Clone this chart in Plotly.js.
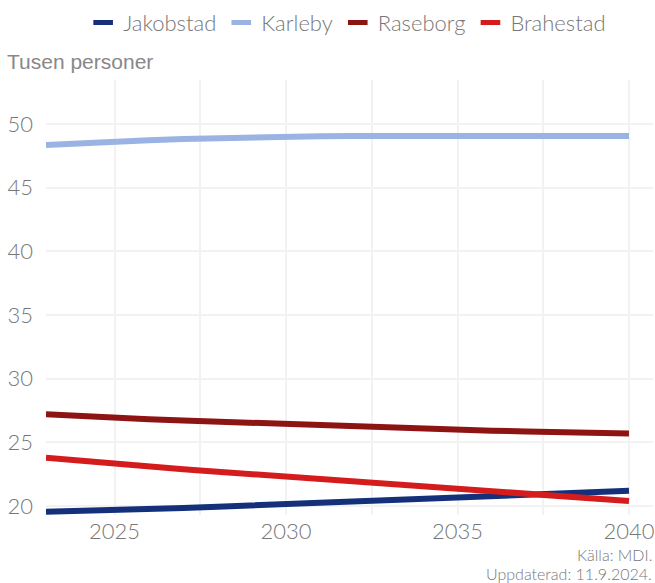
<!DOCTYPE html>
<html>
<head>
<meta charset="utf-8">
<script src="https://cdn.plot.ly/plotly-3.0.1.min.js"></script>
<style>html,body{margin:0;padding:0;background:#fff;}#chart{width:655px;height:583px;}</style>
</head>
<body>
<div id="chart"></div>
<script>
const years = [2023,2024,2025,2026,2027,2028,2029,2030,2031,2032,2033,2034,2035,2036,2037,2038,2039,2040];
const jakobstad = [19.55,19.6,19.65,19.75,19.85,19.95,20.05,20.15,20.25,20.35,20.45,20.55,20.65,20.75,20.85,20.95,21.1,21.2];
const karleby = [48.35,48.5,48.6,48.72,48.82,48.9,48.96,49.0,49.04,49.05,49.06,49.06,49.06,49.06,49.06,49.05,49.05,49.05];
const raseborg = [27.2,27.05,26.92,26.82,26.72,26.62,26.52,26.42,26.32,26.22,26.14,26.06,25.98,25.92,25.86,25.8,25.75,25.7];
const brahestad = [23.8,23.55,23.35,23.12,22.9,22.7,22.5,22.3,22.1,21.9,21.7,21.5,21.32,21.15,20.98,20.8,20.6,20.4];
const seriesNames = ["Jakobstad","Karleby","Raseborg","Brahestad"];
const seriesColors = ["#14307a","#9bb3e2","#8e1414","#d51c1c"];
const seriesValues = [jakobstad, karleby, raseborg, brahestad];
const xTicks = [2025,2030,2035,2040];
const xGrid = [2025,2027.5,2030,2032.5,2035,2037.5,2040];
const yTicks = [20,25,30,35,40,45,50];

const lineTraces = seriesNames.map((n,i)=>({
  x: years, y: seriesValues[i], name: n, type: 'scatter', mode: 'lines',
  legendgroup: n, showlegend: false,
  line: {color: seriesColors[i], width: 6}
}));
const legendTraces = seriesNames.map((n,i)=>({
  x: [null], y: [null], name: n, type: 'scatter', mode: 'markers',
  legendgroup: n, showlegend: true,
  marker: {symbol: 'line-ew', size: 14, color: seriesColors[i], line: {color: seriesColors[i], width: 5}}
}));

const tickFont = {family: 'Lato, "Noto Sans", sans-serif', size: 22, color: '#777777', weight: 300};
const captionFont = {family: 'Lato, "Noto Sans", sans-serif', size: 16, color: '#777777', weight: 300};
const layout = {
  width: 655, height: 583,
  margin: {l: 46, r: 2, t: 80, b: 68},
  paper_bgcolor: '#ffffff', plot_bgcolor: '#ffffff',
  showlegend: true,
  legend: {orientation: 'h', x: 0.53, xref: 'container', xanchor: 'center', y: 0.997, yref: 'container', yanchor: 'top',
    font: {family: 'Lato, "Noto Sans", sans-serif', size: 22, color: '#777777', weight: 300},
    itemwidth: 30, tracegroupgap: 0, itemsizing: 'trace'},
  xaxis: {range: [2023, 2040.7], tickvals: xTicks, ticktext: xTicks.map(String),
    showgrid: false,
    minor: {tickvals: xGrid, showgrid: true, gridcolor: '#f2f2f2', gridwidth: 2},
    zeroline: false, showline: false, ticks: '', tickfont: tickFont, ticklabelstandoff: 1},
  yaxis: {range: [19.3, 53.45], tickvals: yTicks, ticktext: yTicks.map(String),
    showgrid: true, gridcolor: '#f2f2f2', gridwidth: 2,
    zeroline: false, showline: false, ticks: '', tickfont: tickFont, ticklabelstandoff: 12},
  annotations: [
    {text: 'Tusen personer', xref: 'paper', yref: 'paper', x: -0.068, y: 1.0, yshift: 5, xanchor: 'left', yanchor: 'bottom',
      showarrow: false, font: {family: '"Liberation Sans", Arial, sans-serif', size: 21, color: '#888888'}},
    {text: 'Källa: MDI.', xref: 'paper', yref: 'paper', x: 1, y: 0, yshift: -39, xanchor: 'right', yanchor: 'middle',
      borderpad: 0, showarrow: false, font: captionFont},
    {text: 'Uppdaterad: 11.9.2024.', xref: 'paper', yref: 'paper', x: 1, y: 0, yshift: -58, xanchor: 'right', yanchor: 'middle',
      borderpad: 0, showarrow: false, font: captionFont}
  ]
};
Plotly.newPlot('chart', lineTraces.concat(legendTraces), layout, {displayModeBar: false, staticPlot: true});
</script>
</body>
</html>
